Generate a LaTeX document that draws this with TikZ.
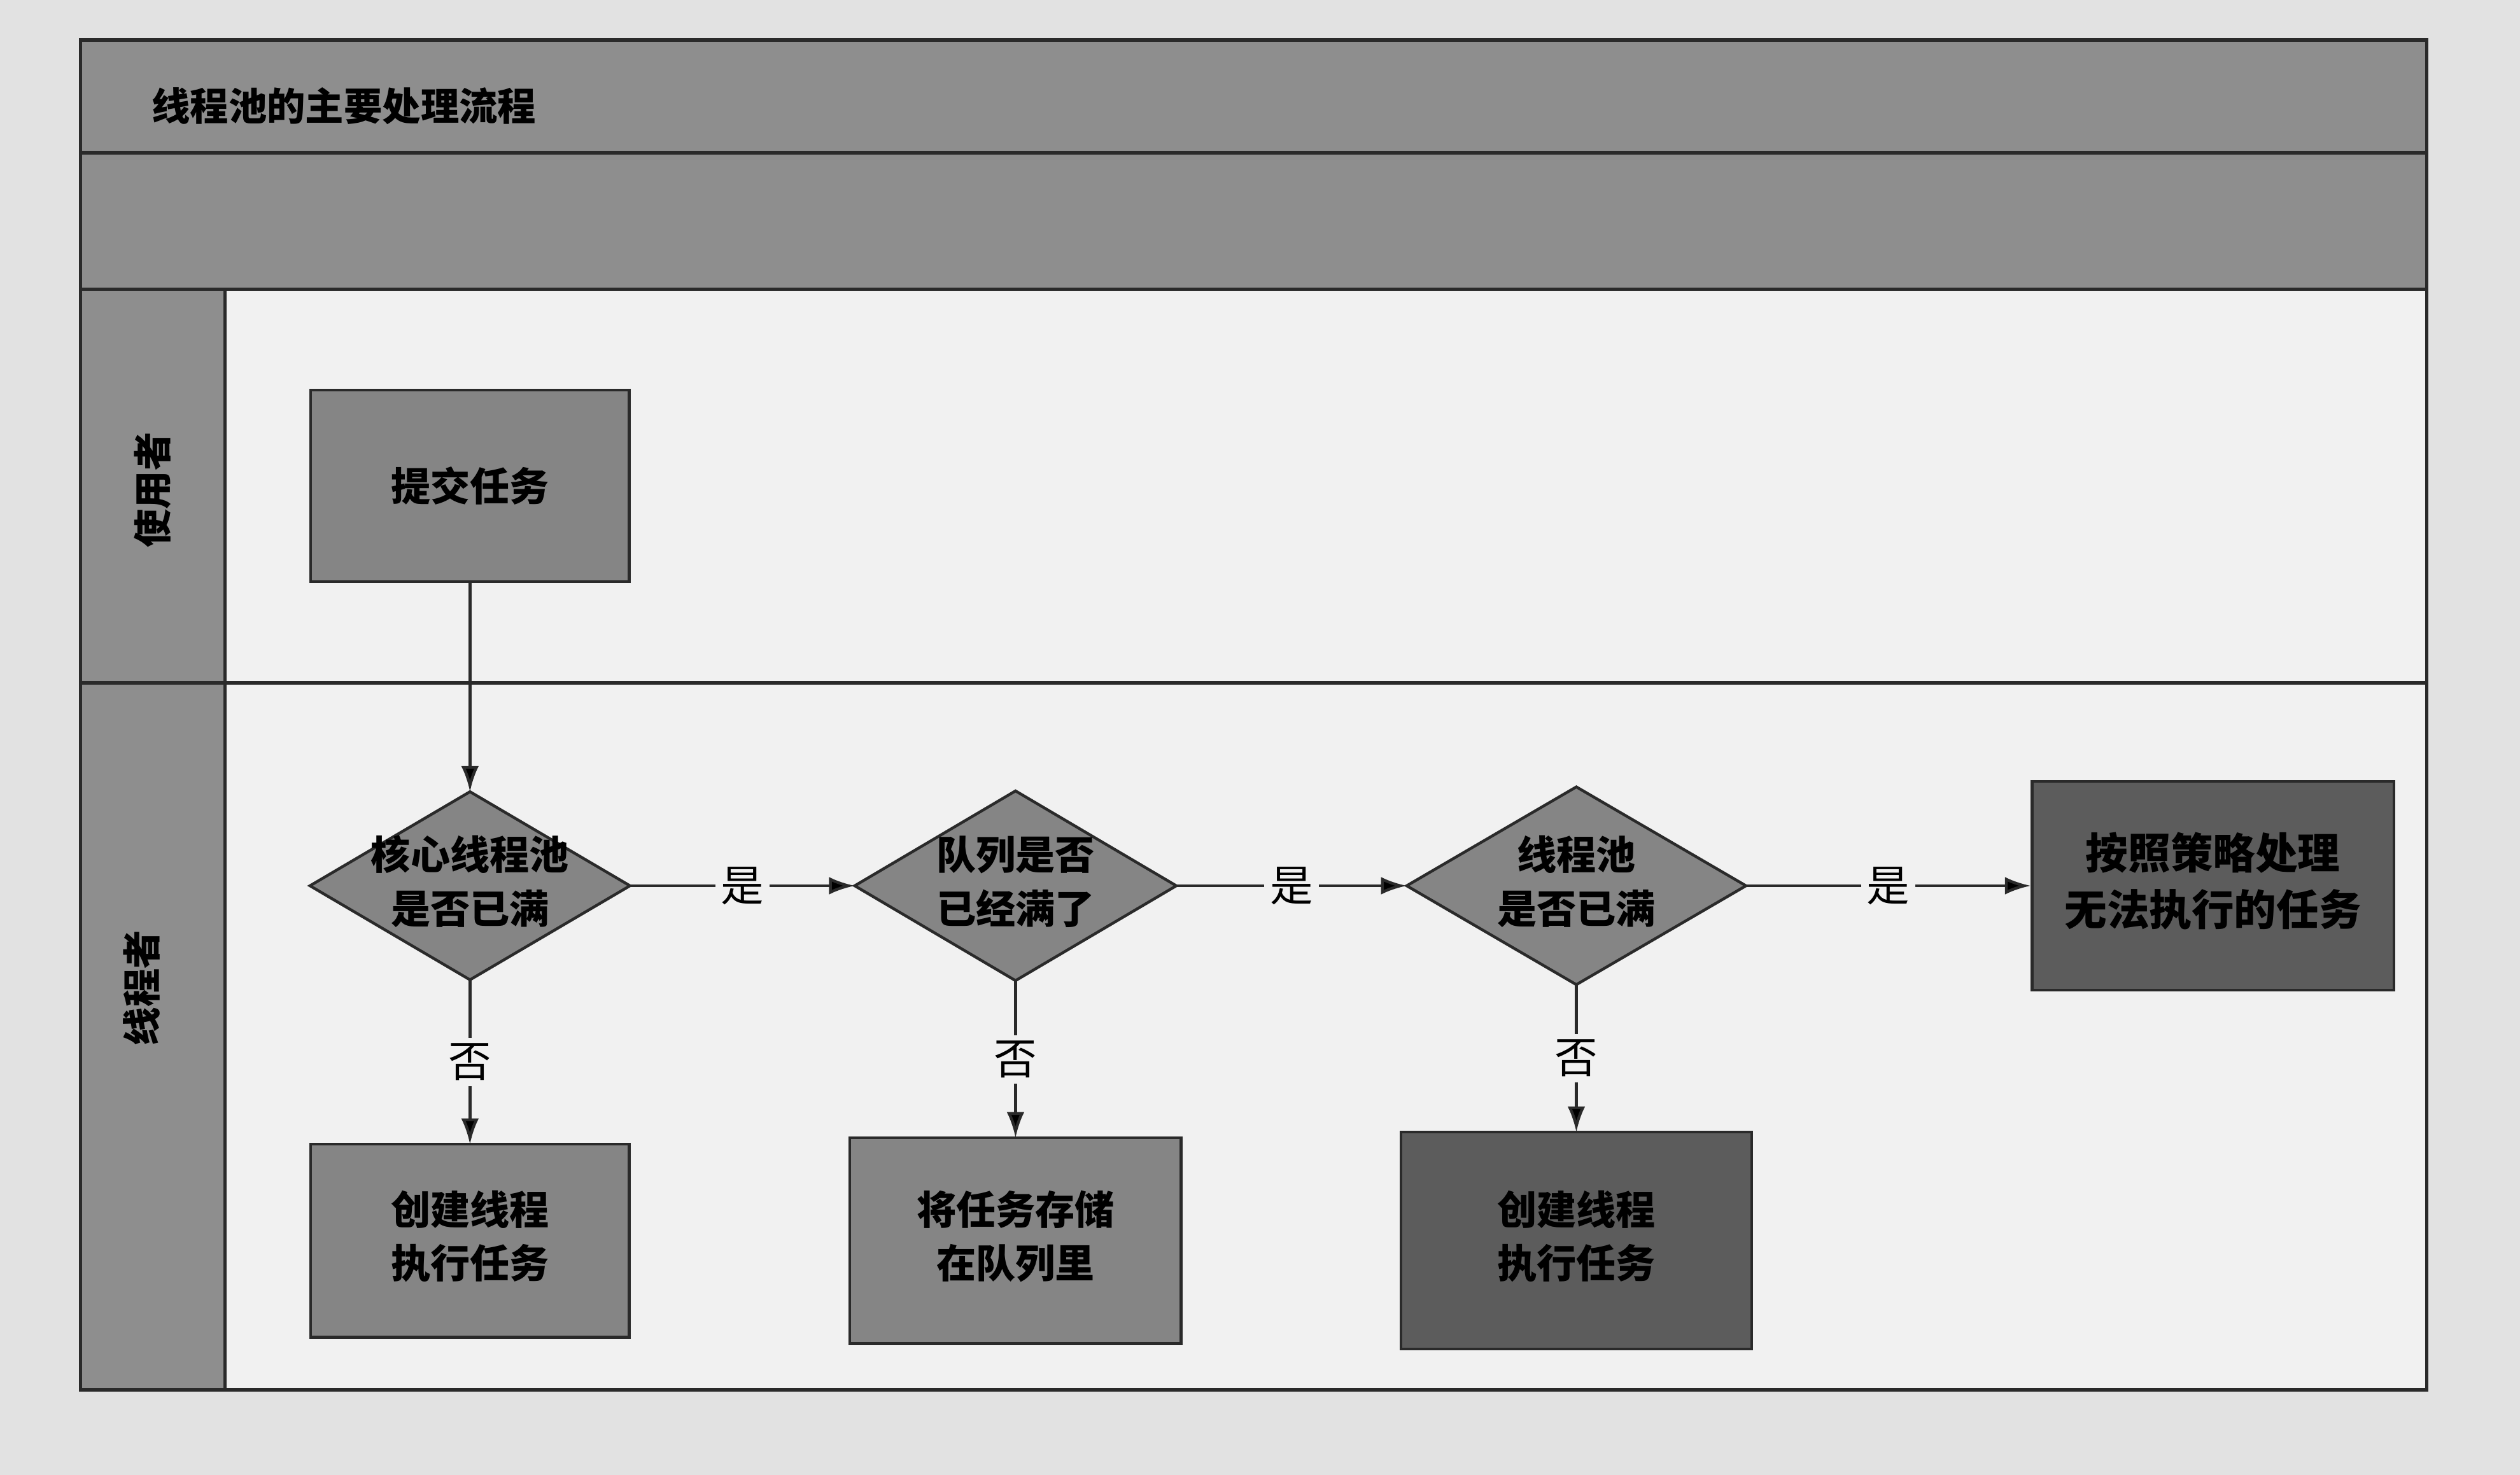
\documentclass[tikz,border=0pt]{standalone}
\usepackage{fontspec}
\newfontfamily\cjk{Noto Sans CJK SC}
\usetikzlibrary{arrows.meta,positioning,matrix,shapes.geometric}
\definecolor{paper}{HTML}{E2E2E2}
\definecolor{lanefill}{HTML}{F1F1F1}
\definecolor{bandgray}{HTML}{8E8E8E}
\definecolor{boxgray}{HTML}{858585}
\definecolor{darkgray}{HTML}{5C5C5C}
\definecolor{ink}{HTML}{2A2A2A}
\newcommand\twoline[2]{\begin{tabular}{@{}c@{}}#1\\#2\end{tabular}}

\begin{document}
\begin{tikzpicture}[x=0.01cm,y=-0.01cm,font=\cjk,
  band/.style={draw=ink,line width=0.6pt,fill=bandgray},
  task/.style={draw=ink,line width=0.5pt,fill=boxgray,inner sep=0pt,
    font=\cjk\bfseries\fontsize{7}{9.5}\selectfont},
  darktask/.style={task,fill=darkgray},
  decision/.style={diamond,aspect=1.7,draw=ink,line width=0.5pt,fill=boxgray,
    inner xsep=-0.3cm,inner ysep=-0.15cm,font=\cjk\bfseries\fontsize{7}{9.5}\selectfont},
  answer/.style={fill=lanefill,inner sep=1pt,font=\cjk\fontsize{7.6}{8}\selectfont}]
\useasboundingbox[fill=paper] (0,0) rectangle (1568,918);

% lanes
\draw[band,fill=lanefill] (50,25) rectangle (1510,865);
\draw[band] (50,25) rectangle (1510,95);
\draw[band] (50,95) rectangle (1510,180);
\draw[band] (50,180) rectangle (140,425);
\draw[band] (50,425) rectangle (140,865);
\draw[ink,line width=0.6pt] (140,425) -- (1510,425);
\node[anchor=west,font=\cjk\bfseries\fontsize{6.8}{8}\selectfont] (title) at (82,66) {线程池的主要处理流程};
\node[rotate=90,font=\cjk\bfseries\fontsize{6.8}{8}\selectfont] (user) at (95,305) {使用者};
\node[rotate=90,font=\cjk\bfseries\fontsize{6.8}{8}\selectfont] (pool) at (88,615) {线程者};

\matrix (m) [matrix of nodes, anchor=north west, inner sep=0pt, outer sep=0pt,
row sep=0.9cm, column sep=1.35cm,
nodes={anchor=center}] at (192,242) {
|[task,minimum width=1.98cm,minimum height=1.19cm]| 提交任务 & & \\[0.36cm]
|[decision,minimum width=1.99cm,minimum height=1.17cm]| \twoline{核心线程池}{是否已满} &
|[decision,minimum width=2.0cm,minimum height=1.18cm]| \twoline{队列是否}{已经满了} &
|[decision,minimum width=2.11cm,minimum height=1.23cm]| \twoline{线程池}{是否已满} \\
|[task,minimum width=1.98cm,minimum height=1.2cm]| \twoline{创建线程}{执行任务} &
|[task,minimum width=2.06cm,minimum height=1.28cm]| \twoline{将任务存储}{在队列里} &
|[darktask,minimum width=2.18cm,minimum height=1.35cm]| \twoline{创建线程}{执行任务} \\
};
\node[darktask,right=1.77cm of m-2-3,minimum width=2.25cm,minimum height=1.3cm,
  font=\cjk\bfseries\fontsize{7.5}{10}\selectfont] (reject) {\twoline{按照策略处理}{无法执行的任务}};
\path[draw=ink,line width=0.5pt,-{Latex[length=1.6mm, width=1.1mm]}]
(m-1-1) edge (m-2-1)
(m-2-1) edge node[answer] {是} (m-2-2)
(m-2-2) edge node[answer] {是} (m-2-3)
(m-2-3) edge node[answer] {是} (reject)
(m-2-1) edge node[answer] {否} (m-3-1)
(m-2-2) edge node[answer] {否} (m-3-2)
(m-2-3) edge node[answer] {否} (m-3-3);
\end{tikzpicture}
\end{document}
